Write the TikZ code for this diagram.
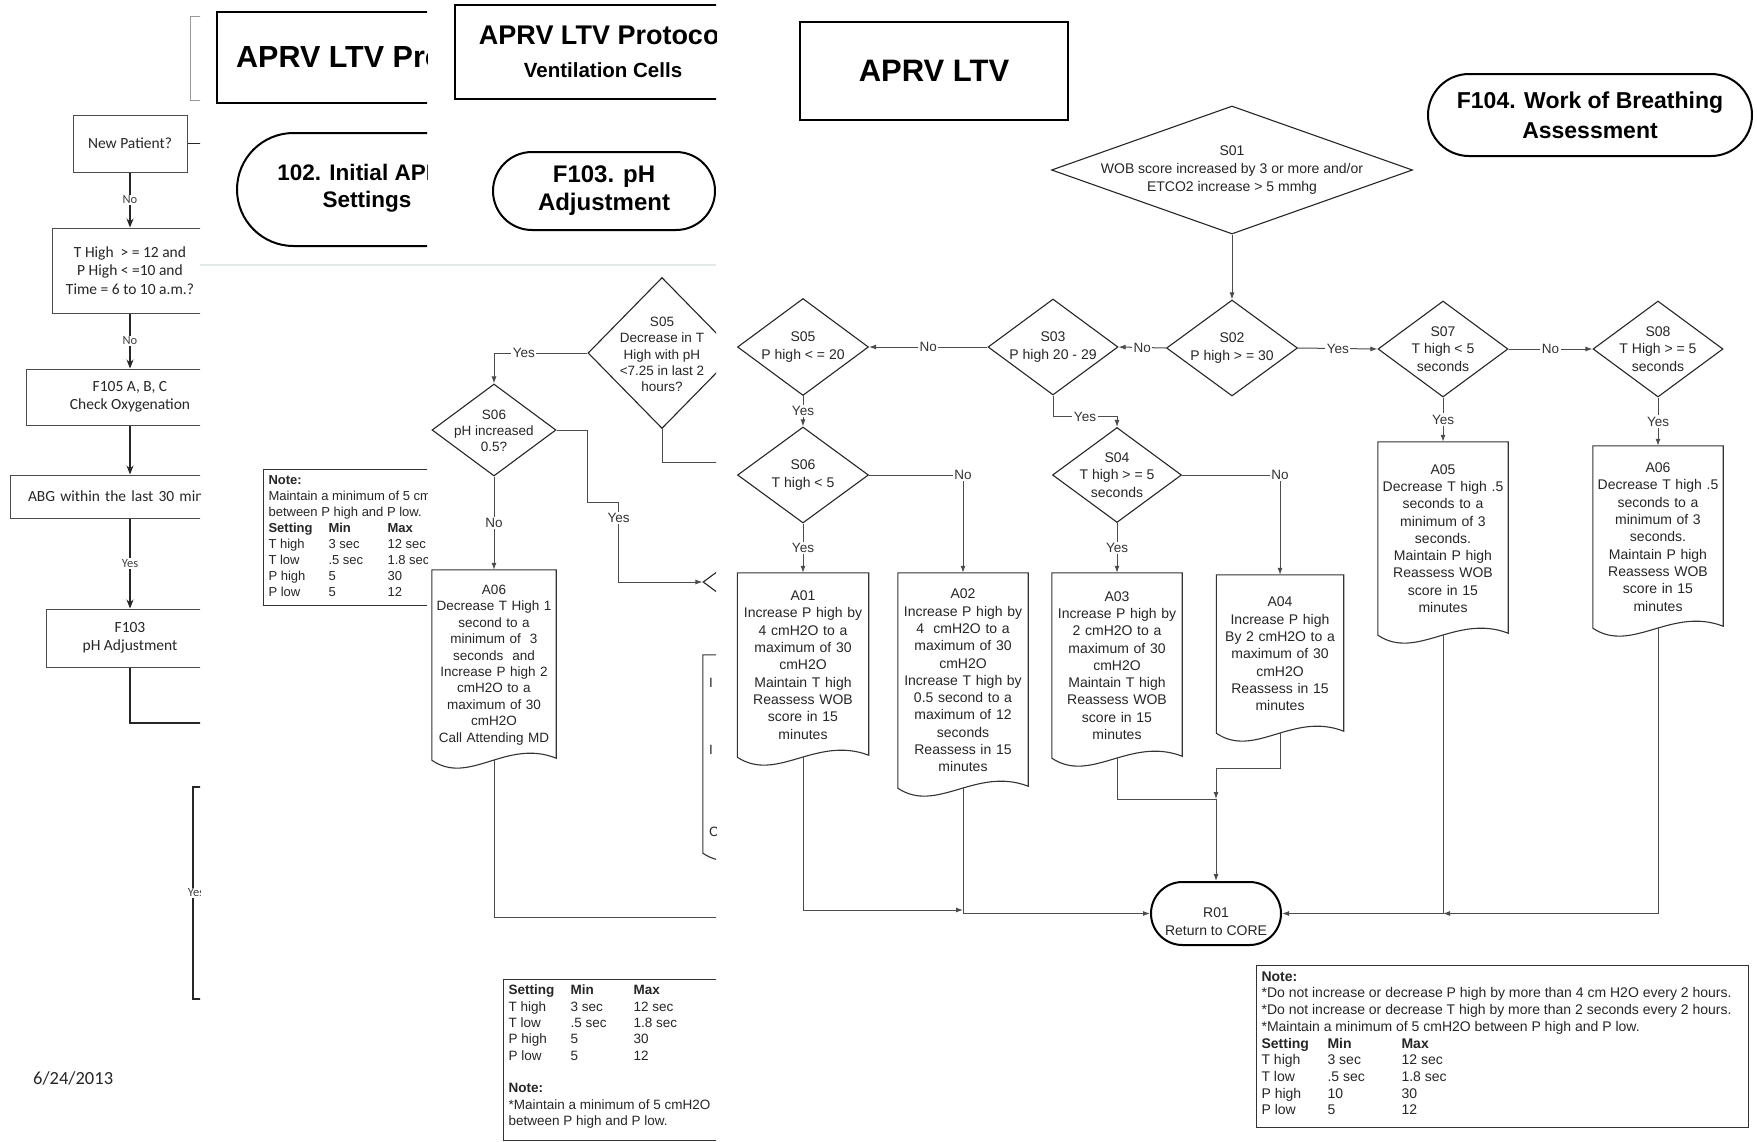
\documentclass[tikz,border=0pt]{standalone}
\usepackage{fontspec}
\setmainfont{Liberation Sans}
\newfontfamily\calfont{Carlito}
\usetikzlibrary{shapes.geometric,shapes.misc,arrows.meta,calc}
\setlength{\tabcolsep}{0pt}
\newcommand{\fsz}[2]{\fontsize{#1}{#2}\selectfont}
\tikzset{
  ln/.style={draw=black!70,line width=1pt},
  flow/.style={ln,-{Latex[length=7pt,width=5pt]}},
  diam/.style={diamond,draw=black!85,line width=1.1pt,inner sep=0pt},
  dtxt/.style={align=center,inner sep=0pt,font=\fsz{14}{17.5},text=black!85},
  docb/.style={inner sep=0pt,text width=#1,minimum width=#1,align=center,font=\fsz{14}{17.3},text=black!85},
  boxln/.style={draw=black!80,line width=1.1pt},
  term/.style={rounded rectangle,draw,line width=2pt,inner sep=0pt},
  yn/.style={fill=white,inner sep=1.5pt,font=\fsz{13.5}{15},text=black!80},
  notebox/.style={draw=black!80,line width=1.1pt,anchor=north west,inner xsep=5pt,inner ysep=4pt,text=black!85},
  c1box/.style={draw=black!70,line width=1pt,font=\calfont\fsz{15.5}{18.5},align=center,inner sep=0pt,text=black!85},
  c1ln/.style={draw=black!85,line width=1.4pt},
  c1flow/.style={c1ln,-{Stealth[length=9pt,width=7pt]}},
  c1yn/.style={fill=white,inner sep=1pt,font=\calfont\fsz{12.5}{14},text=black!75}
}
\begin{document}
\begin{tikzpicture}[x=1pt,y=-1pt]
\fill[white] (0,0) rectangle (1757,1141);
\useasboundingbox (0,0) rectangle (1757,1141);

% page 1
\begin{scope}
\clip (0,0) rectangle (200,1141);
\node[draw=black!40,line width=1pt,minimum width=120pt,minimum height=84pt] (p1top) at (250,58) {};
\node[c1box,minimum width=114pt,minimum height=57pt] (newp) at (130,143.5) {New Patient?};
\node[c1box,minimum width=156pt,minimum height=85pt] (thigh) at (130,270.5) {T High \ > = 12 and\\P High < =10 and\\Time = 6 to 10 a.m.?};
\node[c1box,minimum width=208pt,minimum height=56pt] (f105) at (130,397) {F105 A, B, C\\Check Oxygenation};
\node[c1box,minimum width=240pt,minimum height=43pt,text width=204pt,align=left] (abg) at (130,496.5) {ABG within the last 30 min};
\node[c1box,minimum width=168pt,minimum height=58pt] (f103b) at (130,638) {F103\\pH Adjustment};
\coordinate (p1e1) at (205,143.5);
\coordinate (p1e2) at (205,723);
\coordinate (p1e3) at (205,787);
\coordinate (p1e4) at (205,999);
\draw[c1flow] (newp) -- node[c1yn]{No} (thigh);
\draw[c1flow] (thigh) -- node[c1yn]{No} (f105);
\draw[c1flow] (f105) -- (abg);
\draw[c1flow] (abg) -- node[c1yn]{Yes} (f103b);
\draw[c1ln,line width=1pt] (newp.east) -- (p1e1);
\draw[c1ln] (f103b.south) |- (p1e2);
\draw[c1ln] (p1e3) -- ++(-12,0) -- node[c1yn,xshift=3pt]{Yes} ++(0,212) -- (p1e4);
\node[anchor=west,inner sep=0pt,font=\calfont\fsz{18.5}{22},text=black!85] (date) at (33,1078) {6/24/2013};
\end{scope}

% page 2
\begin{scope}
\clip (200,0) rectangle (427,1141);
\node[draw,line width=2.2pt,minimum width=433pt,minimum height=91pt] (ttl2) at (433.5,57.5) {};
\node[anchor=west,inner sep=0pt,font=\bfseries\fsz{30.5}{34}] (ttl2-t) at (236,57) {APRV LTV Protocol};
\node[term,minimum width=300pt,minimum height=113pt] (t102) at (387,189.5) {};
\node[align=center,inner sep=0pt,font=\bfseries\fsz{22.5}{27}] (t102-t) at (367,188.5) {102. Initial APRV\\Settings};
\node[notebox,font=\fsz{13}{16}] (note2) at (263,469) {\begin{tabular}{@{}p{60pt}p{59pt}p{130pt}@{}}
\multicolumn{3}{@{}l@{}}{\textbf{Note:}}\\
\multicolumn{3}{@{}l@{}}{Maintain a minimum of 5 cmH2O}\\
\multicolumn{3}{@{}l@{}}{between P high and P low.}\\
\textbf{Setting}&\textbf{Min}&\textbf{Max}\\
T high&3 sec&12 sec\\
T low&.5 sec&1.8 sec\\
P high&5&30\\
P low&5&12
\end{tabular}};
\end{scope}

% page 3
\begin{scope}
\clip (427,0) rectangle (716,1141);
\node[draw,line width=2.2pt,minimum width=296pt,minimum height=94pt] (ttl3) at (603,52) {};
\node[inner sep=0pt,font=\bfseries\fsz{27}{30}] (ttl3-a) at (603,35) {APRV LTV Protocol};
\node[inner sep=0pt,font=\bfseries\fsz{20.5}{24}] (ttl3-b) at (603,70) {Ventilation Cells};
\node[term,minimum width=222pt,minimum height=78pt,align=center,font=\bfseries\fsz{24}{28}] (f103) at (604,191) {F103. pH\\Adjustment};
\node[diam,minimum width=148pt,minimum height=151pt] (s05a) at (662,353) {};
\node[dtxt,font=\fsz{13.5}{16.3}] (s05a-t) at (662,354.5) {S05\\Decrease in T\\High with pH\\<7.25 in last 2\\hours?};
\node[diam,minimum width=124pt,minimum height=92pt] (s06a) at (494,430) {};
\node[dtxt,font=\fsz{13.5}{16.3}] (s06a-t) at (494,431) {S06\\pH increased\\0.5?};
\node[docb=124pt,minimum height=190pt,font=\fsz{13.5}{16.4}] (a06a) at (494,665) {A06\\Decrease T High 1\\second to a\\minimum of \ 3\\seconds \ and\\Increase P high 2\\cmH2O to a\\maximum of 30\\cmH2O\\Call Attending MD};
\node[diam,minimum width=130pt,minimum height=96pt] (p3dia) at (768,582) {};
\node[docb=130pt,minimum height=198pt] (p3doc) at (768,754) {};
\foreach \yy/\c in {683/I,750/I,832/C}
  \node[anchor=west,inner sep=0pt,font=\fsz{13.5}{16},text=black!85] (p3c\yy) at (709,\yy) {\c};
\foreach \n in {a06a,p3doc}
  \draw[boxln] (\n.north west) -- (\n.south west) .. controls ($(\n.south west)!0.3!(\n.south east)+(0,26)$) and ($(\n.south west)!0.6!(\n.south east)+(0,-22)$) .. ($(\n.south east)+(0,-2)$) -- (\n.north east) -- cycle;
\coordinate (p3o1) at (720,462);
\coordinate (p3o2) at (720,917);
\draw[flow] (s05a.west) -| node[yn,pos=0.34]{Yes} (s06a.north);
\draw[flow] (s06a.south) -- node[yn]{No} (a06a.north);
\draw[flow] (s06a.east) -- ++(31,0) -- ++(0,72) -- ++(31,0) -- node[yn,pos=0.2]{Yes} ++(0,80) -- (p3dia.west);
\draw[ln] (s05a.south) |- (p3o1);
\draw[ln] (a06a.south) |- (p3o2);
\node[notebox,font=\fsz{13.5}{16.3}] (note3) at (503,979) {\begin{tabular}{@{}p{62pt}p{63pt}p{130pt}@{}}
\textbf{Setting}&\textbf{Min}&\textbf{Max}\\
T high&3 sec&12 sec\\
T low&.5 sec&1.8 sec\\
P high&5&30\\
P low&5&12\\
\multicolumn{3}{@{}l@{}}{}\\
\multicolumn{3}{@{}l@{}}{\textbf{Note:}}\\
\multicolumn{3}{@{}l@{}}{*Maintain a minimum of 5 cmH2O}\\
\multicolumn{3}{@{}l@{}}{between P high and P low.}\\[6pt]
\end{tabular}};
\end{scope}
\draw[draw=cyan!20!black!12,line width=1.5pt] (200,265) -- (716,265);

% page 4
\begin{scope}
\clip (716,0) rectangle (1757,1141);
\node[draw,line width=2.5pt,minimum width=268pt,minimum height=98pt,font=\bfseries\fsz{31}{36}] (ttl4) at (934,71) {APRV LTV};
\node[term,minimum width=324pt,minimum height=82pt,align=center,font=\bfseries\fsz{23}{30}] (f104) at (1590,115) {F104. Work of Breathing\\Assessment};
\node[diam,minimum width=361pt,minimum height=128pt] (s01) at (1232,170) {};
\node[dtxt,font=\fsz{14}{18}] (s01-t) at (1232,170) {S01\\WOB score increased by 3 or more and/or\\ETCO2 increase > 5 mmhg};
\foreach \n/\p/\w/\h/\t in {
  s02/{1232,348}/131/96/{S02\\P high > = 30},
  s03/{1053,347}/130/96/{S03\\P high 20 - 29},
  s05/{803,347}/131/97/{S05\\P high < = 20},
  s06/{803,475}/131/96/{S06\\T high < 5},
  s04/{1117,475}/129/95/{S04\\T high > = 5\\seconds},
  s07/{1443,349}/130/96/{S07\\T high < 5\\seconds},
  s08/{1658,349}/130/96/{S08\\T High > = 5\\seconds}}{
  \node[diam,minimum width=\w pt,minimum height=\h pt] (\n) at (\p) {};
  \node[dtxt] (\n-t) at (\p) {\t};
}
\node[docb=131pt,minimum height=184pt] (a01) at (803,665) {A01\\Increase P high by\\4 cmH2O to a\\maximum of 30\\cmH2O\\Maintain T high\\Reassess WOB\\score in 15\\minutes};
\node[docb=130pt,minimum height=215pt] (a02) at (963,680.5) {A02\\Increase P high by\\4 \ cmH2O to a\\maximum of 30\\cmH2O\\Increase T high by\\0.5 second to a\\maximum of 12\\seconds\\Reassess in 15\\minutes};
\node[docb=130pt,minimum height=185pt] (a03) at (1117,665.5) {A03\\Increase P high by\\2 cmH2O to a\\maximum of 30\\cmH2O\\Maintain T high\\Reassess WOB\\score in 15\\minutes};
\node[docb=127pt,minimum height=158pt] (a04) at (1280,654) {A04\\Increase P high\\By 2 cmH2O to a\\maximum of 30\\cmH2O\\Reassess in 15\\minutes};
\node[docb=130pt,minimum height=193pt] (a05) at (1443,538.5) {A05\\Decrease T high .5\\seconds to a\\minimum of 3\\seconds.\\Maintain P high\\Reassess WOB\\score in 15\\minutes};
\node[docb=130pt,minimum height=182pt] (a06) at (1658,537) {A06\\Decrease T high .5\\seconds to a\\minimum of 3\\seconds.\\Maintain P high\\Reassess WOB\\score in 15\\minutes};
\foreach \n in {a01,a02,a03,a04,a05,a06}
  \draw[boxln] (\n.north west) -- (\n.south west) .. controls ($(\n.south west)!0.3!(\n.south east)+(0,26)$) and ($(\n.south west)!0.6!(\n.south east)+(0,-22)$) .. ($(\n.south east)+(0,-2)$) -- (\n.north east) -- cycle;
\node[term,minimum width=130pt,minimum height=63pt] (r01) at (1216,913.5) {};
\node[dtxt] (r01-t) at (1216,921.5) {R01\\Return to CORE};
\draw[flow] (s01.south) -- (s02.north);
\draw[flow] (s02.west) -- node[yn]{No} (s03.east);
\draw[flow] (s03.west) -- node[yn]{No} (s05.east);
\draw[flow] (s02.east) -- node[yn]{Yes} (s07.west);
\draw[flow] (s07.east) -- node[yn]{No} (s08.west);
\draw[flow] (s05.south) -- node[yn]{Yes} (s06.north);
\draw[flow] (s06.south) -- node[yn]{Yes} (a01.north);
\draw[flow] (s06.east) -| node[yn]{No} (a02.north);
\draw[flow] (s03.south) -- ++(0,21) -| node[yn,pos=0.25]{Yes} (s04.north);
\draw[flow] (s04.south) -- node[yn]{Yes} (a03.north);
\draw[flow] (s04.east) -| node[yn]{No} (a04.north);
\draw[flow] (s07.south) -- node[yn]{Yes} (a05.north);
\draw[flow] (s08.south) -- node[yn]{Yes} (a06.north);
\coordinate (j1) at (1216,799);
\coordinate (j2) at (963,910);
\coordinate (j3) at (1443,913.5);
\draw[ln] (a03.south) |- (j1);
\draw[flow] (a04.south) |- ($(j1)+(0,-31)$) -- (j1);
\draw[flow] (j1) -- (r01.north);
\draw[flow] (a01.south) |- (j2);
\draw[flow] (a02.south) |- (r01.west);
\draw[flow] (a05.south) |- (r01.east);
\draw[flow] (a06.south) |- (j3);
\node[notebox,font=\fsz{14}{16.7}] (note4) at (1256,965) {\begin{tabular}{@{}p{66pt}p{74pt}p{342pt}@{}}
\multicolumn{3}{@{}l@{}}{\textbf{Note:}}\\
\multicolumn{3}{@{}l@{}}{*Do not increase or decrease P high by more than 4 cm H2O every 2 hours.}\\
\multicolumn{3}{@{}l@{}}{*Do not increase or decrease T high by more than 2 seconds every 2 hours.}\\
\multicolumn{3}{@{}l@{}}{*Maintain a minimum of 5 cmH2O between P high and P low.}\\
\textbf{Setting}&\textbf{Min}&\textbf{Max}\\
T high&3 sec&12 sec\\
T low&.5 sec&1.8 sec\\
P high&10&30\\
P low&5&12\\[4pt]
\end{tabular}};
\end{scope}
\end{tikzpicture}
\end{document}
